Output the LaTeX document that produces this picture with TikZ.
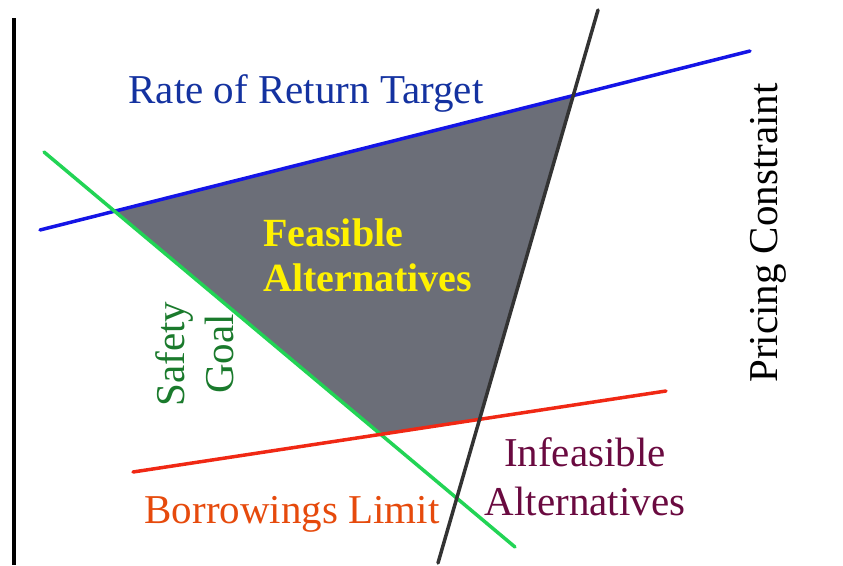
\documentclass[tikz,border=0pt]{standalone}
\usepackage{fontspec}
\setmainfont{Liberation Serif}
\usepackage{tikz}
\usepackage{xcolor}

\definecolor{returnblue}{HTML}{1414E6}
\definecolor{returntext}{HTML}{1432A0}
\definecolor{safetygreen}{HTML}{22D455}
\definecolor{safetytext}{HTML}{1A7A2C}
\definecolor{borrowred}{HTML}{F02814}
\definecolor{borrowtext}{HTML}{E64A0C}
\definecolor{pricegray}{HTML}{333333}
\definecolor{feasiblefill}{HTML}{6B6E78}
\definecolor{infeasibletext}{HTML}{6A0A40}

\begin{document}
\begin{tikzpicture}[
        x=1pt, y=-1pt,
        constraint/.style={
            line width=3.5pt,
            line cap=round
        },
        label/.style={
            inner sep=0pt,
            font=\fontsize{41}{49}\selectfont
        },
        boldlabel/.style={
            inner sep=0pt,
            font=\fontsize{40}{45}\selectfont\bfseries
        }
    ]
        \useasboundingbox (0,0) rectangle (843,565);

        % Oś pionowa
        \coordinate (axistop) at (14,18);
        \coordinate (axisbot) at (14,565);
        \draw[line width=3.5pt] (axistop) -- (axisbot);

        % Końce prostych ograniczeń
        \coordinate (ret1) at (40,230);
        \coordinate (ret2) at (750,51);
        \coordinate (saf1) at (44,152);
        \coordinate (saf2) at (515,547);
        \coordinate (bor1) at (133,472);
        \coordinate (bor2) at (666,391);
        \coordinate (pri1) at (598,10);
        \coordinate (pri2) at (438,563);

        % Obszar dopuszczalny
        \fill[feasiblefill]
            (intersection of ret1--ret2 and saf1--saf2) --
            (intersection of ret1--ret2 and pri1--pri2) --
            (intersection of pri1--pri2 and bor1--bor2) --
            (intersection of bor1--bor2 and saf1--saf2) -- cycle;

        % Proste ograniczeń
        \draw[constraint, returnblue] (ret1) -- (ret2);
        \draw[constraint, safetygreen] (saf1) -- (saf2);
        \draw[constraint, borrowred] (bor1) -- (bor2);
        \draw[constraint, pricegray] (pri1) -- (pri2);

        % Opisy
        \node[label, returntext, anchor=base] (rettext) at (306,103) {Rate of Return Target};
        \node[label, anchor=base, rotate=90] (pritext) at (777,233) {Pricing Constraint};
        \node[label, safetytext, align=center, rotate=90] (saftext) at (195,354) {Safety\\Goal};
        \node[label, borrowtext, anchor=base] (bortext) at (292,523) {Borrowings Limit};
        \node[boldlabel, yellow, align=left, anchor=north west] (feastext) at (263,219) {Feasible\\Alternatives};
        \node[label, infeasibletext, align=center, anchor=north] (inftext) at (585,437) {Infeasible\\Alternatives};

    \end{tikzpicture}
\end{document}
